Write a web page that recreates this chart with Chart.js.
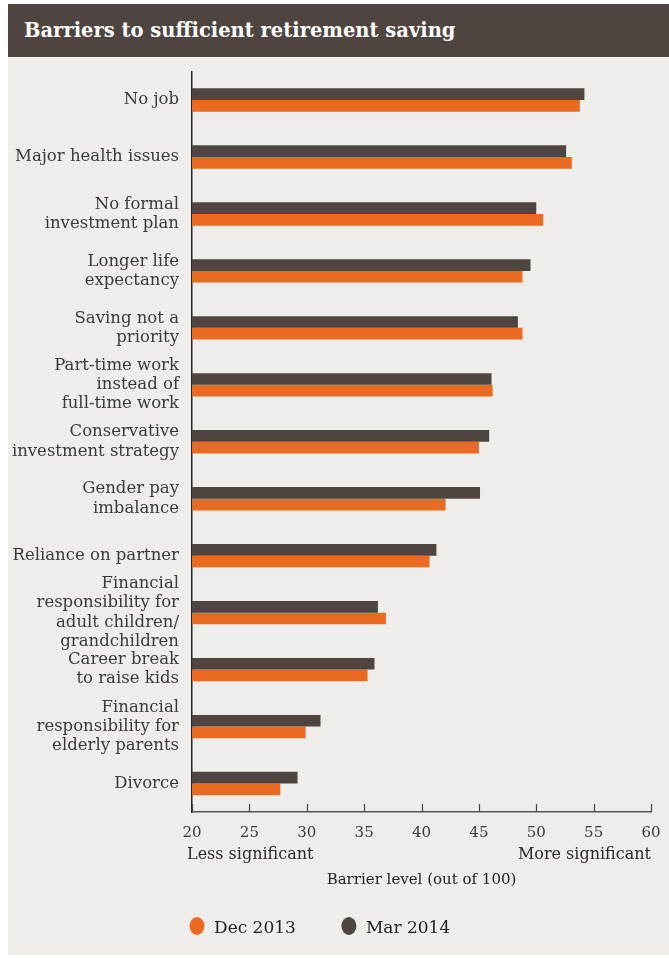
<!DOCTYPE html>
<html>
<head>
<meta charset="utf-8">
<script src="https://cdn.jsdelivr.net/npm/chart.js@4.4.0/dist/chart.umd.min.js"></script>
<style>
    body { margin: 0; background: #ffffff; }
    #panel { position: absolute; left: 8px; top: 4px; width: 661px; height: 951px; background: #eeede9; }
    #title { height: 53px; background: #4e4540; color: #ffffff; font-family: 'DejaVu Serif', serif; font-weight: bold; font-size: 19.5px; line-height: 53px; padding-left: 16px; }
    #wrap { position: absolute; left: 0; top: 53px; width: 661px; height: 898px; }
</style>
</head>
<body>
<div id="panel">
    <div id="title">Barriers to sufficient retirement saving</div>
    <div id="wrap"><canvas id="barrierChart"></canvas></div>
</div>
<script>
// Data
const categories = [
    'No job',
    'Major health issues',
    ['No formal', 'investment plan'],
    ['Longer life', 'expectancy'],
    ['Saving not a', 'priority'],
    ['Part-time work', 'instead of', 'full-time work'],
    ['Conservative', 'investment strategy'],
    ['Gender pay', 'imbalance'],
    'Reliance on partner',
    ['Financial', 'responsibility for', 'adult children/', 'grandchildren'],
    ['Career break', 'to raise kids'],
    ['Financial', 'responsibility for', 'elderly parents'],
    'Divorce'
];
const mar2014 = [54.2, 52.6, 50.0, 49.5, 48.4, 46.1, 45.9, 45.1, 41.3, 36.2, 35.9, 31.2, 29.2];
const dec2013 = [53.8, 53.1, 50.6, 48.8, 48.8, 46.2, 45.0, 42.1, 40.7, 36.9, 35.3, 29.9, 27.7];
const seriesNames = ['Mar 2014', 'Dec 2013'];
const axisTitle = 'Barrier level (out of 100)';
const lowLabel = 'Less significant';
const highLabel = 'More significant';

const colors = {
    mar: '#4e4540',
    dec: '#ea6a22',
    text: '#3a3a3a'
};
const fontFamily = "'DejaVu Serif', serif";

// tick marks pointing up into the plot, plus end notes and legend
const extrasPlugin = {
    id: 'extras',
    afterDraw: function (chart) {
        const ctx = chart.ctx;
        const x = chart.scales.x;
        const area = chart.chartArea;
        ctx.save();
        ctx.strokeStyle = '#444';
        ctx.lineWidth = 1.2;
        x.ticks.forEach(function (t) {
            const px = Math.round(x.getPixelForValue(t.value)) + 0.5;
            ctx.beginPath();
            ctx.moveTo(px, area.bottom - 8);
            ctx.lineTo(px, area.bottom);
            ctx.stroke();
        });

        ctx.fillStyle = '#2a2a2a';
        ctx.font = '16px ' + fontFamily;
        ctx.textBaseline = 'middle';
        ctx.textAlign = 'left';
        ctx.fillText(lowLabel, x.getPixelForValue(x.min) - 5, area.bottom + 43);
        ctx.textAlign = 'right';
        ctx.fillText(highLabel, x.getPixelForValue(x.max), area.bottom + 43);

        // legend: Dec 2013 first, then Mar 2014
        const items = chart.data.datasets.slice().reverse();
        let lx = x.getPixelForValue(x.min) + 5;
        const ly = area.bottom + 117;
        ctx.font = '17px ' + fontFamily;
        ctx.textAlign = 'left';
        items.forEach(function (ds) {
            ctx.fillStyle = ds.backgroundColor;
            ctx.beginPath();
            ctx.ellipse(lx, ly - 3, 7.5, 9, 0, 0, Math.PI * 2);
            ctx.fill();
            ctx.fillStyle = '#222';
            ctx.fillText(ds.label, lx + 17, ly);
            lx += 17 + ctx.measureText(ds.label).width + 53;
        });
        ctx.restore();
    }
};

const chartCtx = document.getElementById('barrierChart');
new Chart(chartCtx, {
    type: 'bar',
    data: {
        labels: categories,
        datasets: [
            {
                label: seriesNames[0],
                data: mar2014,
                backgroundColor: colors.mar,
                borderWidth: 0,
                barPercentage: 1.0,
                categoryPercentage: 0.41
            },
            {
                label: seriesNames[1],
                data: dec2013,
                backgroundColor: colors.dec,
                borderWidth: 0,
                barPercentage: 1.0,
                categoryPercentage: 0.41
            }
        ]
    },
    options: {
        indexAxis: 'y',
        responsive: true,
        maintainAspectRatio: false,
        animation: false,
        layout: {
            padding: { top: 0, right: 18, bottom: 62, left: 0 }
        },
        plugins: {
            legend: { display: false },
            tooltip: { enabled: false }
        },
        scales: {
            x: {
                min: 20,
                max: 60,
                ticks: {
                    stepSize: 5,
                    padding: 4,
                    color: colors.text,
                    font: { family: fontFamily, size: 15 }
                },
                grid: { display: false },
                border: { display: true, color: '#555', width: 1.5 },
                title: {
                    display: true,
                    text: axisTitle,
                    color: '#222',
                    font: { family: fontFamily, size: 15 },
                    padding: { top: 25, bottom: 4 }
                }
            },
            y: {
                grid: { display: false },
                border: { display: true, color: '#222', width: 1.5 },
                afterFit: function (scale) { scale.width = 184; },
                ticks: {
                    autoSkip: false,
                    padding: 5,
                    color: colors.text,
                    font: { family: fontFamily, size: 16.5, lineHeight: 1.16 }
                }
            }
        }
    },
    plugins: [extrasPlugin]
});
</script>
</body>
</html>
